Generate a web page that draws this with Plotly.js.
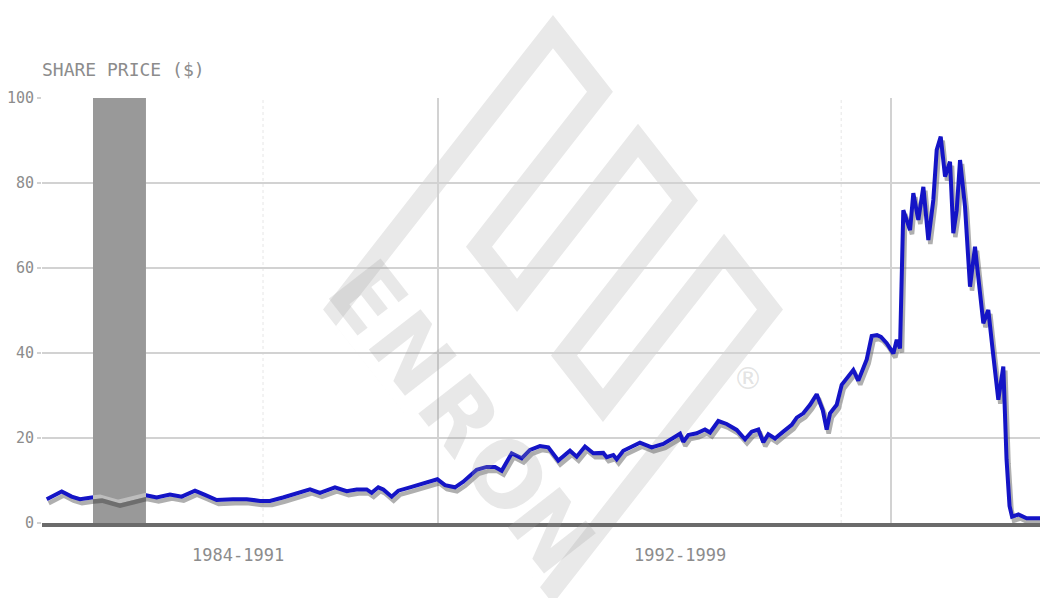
<!DOCTYPE html>
<html><head><meta charset="utf-8">
<script src="https://cdn.plot.ly/plotly-3.0.1.min.js"></script>
<style>html,body{margin:0;padding:0;background:#fff}#chart{width:1040px;height:598px}</style>
</head><body><div id="chart"></div>
<script>
// ---- data ----
const years = [1985.090,1985.355,1985.531,1985.678,1985.884,1986.031,1986.349,1986.614,1986.826,1987.032,
1987.267,1987.474,1987.709,1987.885,1988.092,1988.380,1988.622,1988.857,1989.033,1989.263,
1989.505,1989.740,1989.916,1990.181,1990.388,1990.564,1990.741,1990.829,1990.946,1991.034,
1991.182,1991.299,1991.506,1991.800,1991.988,1992.124,1992.300,1992.447,1992.683,1992.860,
1993.007,1993.125,1993.302,1993.478,1993.625,1993.801,1993.948,1994.124,1994.331,1994.449,
1994.596,1994.743,1994.919,1994.979,1995.096,1995.156,1995.272,1995.567,1995.774,1995.979,
1996.097,1996.215,1996.274,1996.332,1996.420,1996.569,1996.715,1996.804,1996.950,1997.098,
1997.275,1997.422,1997.540,1997.657,1997.745,1997.833,1997.951,1998.098,1998.246,1998.335,
1998.451,1998.570,1998.688,1998.794,1998.864,1998.923,1999.041,1999.129,1999.246,1999.334,
1999.422,1999.506,1999.571,1999.659,1999.753,1999.823,1999.924,2000.041,2000.101,2000.159,
2000.217,2000.336,2000.394,2000.482,2000.571,2000.659,2000.747,2000.807,2000.878,2000.954,
2001.042,2001.100,2001.160,2001.219,2001.307,2001.395,2001.483,2001.630,2001.718,2001.801,
2001.895,2001.983,2002.040,2002.093,2002.137,2002.248,2002.396,2002.631];
const prices = [5.6,7.4,6.2,5.6,6.0,6.2,5.0,6.0,6.6,6.0,
6.7,6.2,7.6,6.6,5.4,5.6,5.6,5.2,5.2,6.0,
7.0,7.9,7.1,8.4,7.5,7.9,7.9,7.1,8.4,7.9,
6.2,7.6,8.4,9.5,10.3,8.9,8.4,9.7,12.5,13.2,
13.2,12.3,16.4,15.2,17.2,18.1,17.8,14.7,17.0,15.6,
18.0,16.4,16.5,15.5,16.0,15.0,17.0,18.9,17.8,18.6,
19.5,20.5,21.0,19.1,20.7,21.1,22.0,21.3,24.0,23.3,
21.9,19.7,21.5,22.0,19.0,20.9,19.9,21.5,23.1,24.8,
25.8,27.8,30.3,26.6,22.0,25.8,27.8,32.5,34.4,36.0,
33.5,36.5,38.5,44.0,44.2,43.8,42.3,39.9,43.1,41.1,
73.6,68.9,77.6,71.3,79.1,66.6,76.0,87.8,90.9,81.5,
85.0,68.2,73.6,85.4,74.4,55.6,65.0,47.0,50.1,40.0,
29.0,36.8,15.0,4.0,1.5,2.0,1.1,1.1];
const yTicks = [0,20,40,60,80,100];
const periodBounds = [1992, 2000];
const periodLabels = ['1984-1991','1992-1999'];
const periodLabelX = [1988.46, 1996.27];
const minorMarks = [1988.91, 1999.12];
const shadedPeriod = [1985.907, 1986.843];
const xRange = [1985.007, 2002.631];
const yRange = [0, 100];
const watermarkLetters = ['E','N','R','O','N'];

// ---- styling / geometry helpers ----
const W = 1040, H = 598, ML = 42, MR = 0, MT = 98, MB = 75;
const PW = W - ML - MR, PH = H - MT - MB;
const pxPerYear = PW / (xRange[1] - xRange[0]);
const pxPerUnit = PH / (yRange[1] - yRange[0]);
const SHX = 2 / pxPerYear, SHY = 4 / pxPerUnit;   // drop-shadow offset
const paperX = px => (px - ML) / PW;
const paperY = py => (H - MB - py) / PH;
// logo frame (tilted, vertically stretched square)
const LO = [553, 15], LK = 1.28;
const logoPt = (a, b) => [LO[0] + a - b, LO[1] + LK * (a + b)];
const OUTER = [[0,0],[60,0],[60,121],[85,121],[85,0],[145,0],[145,121],[171,121],[171,0],[230,0],[230,230],[0,230]];
const INNER = [[13,13],[47,13],[47,134],[98,134],[98,13],[132,13],[132,134],[184,134],[184,13],[217,13],[217,230],[13,230]];
function ring(pts) {
  return pts.map((p, i) => { const q = logoPt(p[0], p[1]); return (i ? 'L' : 'M') + paperX(q[0]).toFixed(4) + ',' + paperY(q[1]).toFixed(4); }).join(' ') + ' Z';
}
const logoPath = ring(OUTER) + ' ' + ring(INNER.slice().reverse());
const letterA = [17, 61, 109, 156, 200], letterB = 203;

const LINE = '#1414c6';
const SHADOW = 'rgba(95,95,95,0.5)';
const GRID = '#d2d2d2';
const TXT = '#8c8c8c';
const MONO = 'DejaVu Sans Mono, monospace';

const bx0 = (shadedPeriod[0] - xRange[0]) / (xRange[1] - xRange[0]);
const bx1 = (shadedPeriod[1] - xRange[0]) / (xRange[1] - xRange[0]);

const traces = [
  {x: years, y: prices, xaxis: 'x2', yaxis: 'y2', mode: 'lines', line: {color: SHADOW, width: 4.5}, hoverinfo: 'skip'},
  {x: years, y: prices, xaxis: 'x3', yaxis: 'y3', mode: 'lines', line: {color: LINE, width: 4}, hoverinfo: 'skip'},
  {x: [shadedPeriod[0], shadedPeriod[1], shadedPeriod[1], shadedPeriod[0]], y: [yRange[0], yRange[0], yRange[1], yRange[1]],
   xaxis: 'x4', yaxis: 'y4', mode: 'lines', fill: 'toself', fillcolor: '#999999', line: {width: 0, color: '#999999'}, hoverinfo: 'skip'},
  {x: years, y: prices, xaxis: 'x4', yaxis: 'y4', mode: 'lines', line: {color: '#bdbdbd', width: 4}, hoverinfo: 'skip'},
  {x: years, y: prices, xaxis: 'x5', yaxis: 'y5', mode: 'lines', line: {color: '#6e6e6e', width: 4.5}, hoverinfo: 'skip'}
];

const hidden = {visible: false, showgrid: false, zeroline: false, fixedrange: true};
const shapes = [
  {type: 'path', xref: 'paper', yref: 'paper', path: logoPath, fillcolor: '#e9e9e9', line: {width: 0}, layer: 'below'}
].concat(minorMarks.map(m => ({type: 'line', xref: 'x', yref: 'paper', x0: m, x1: m, y0: 0, y1: 1,
  line: {color: '#e6e6e6', width: 1, dash: 'dot'}, layer: 'below'})));

const annotations = periodLabels.map((t, i) => ({text: t, x: periodLabelX[i], xref: 'x', y: paperY(554.5), yref: 'paper',
  showarrow: false, xanchor: 'center', yanchor: 'middle', font: {family: MONO, size: 17, color: TXT}}))
.concat(watermarkLetters.map((ch, i) => { const p = logoPt(letterA[i], letterB); return {
  text: ch, x: paperX(p[0]), y: paperY(p[1]), xref: 'paper', yref: 'paper', showarrow: false,
  xanchor: 'center', yanchor: 'middle', textangle: 52,
  font: {family: 'DejaVu Sans', size: 90, weight: 'bold', color: 'rgba(160,160,160,0.24)'}}; }))
.concat([(() => { const p = logoPt(248, 36); return {text: '®', x: paperX(p[0]), y: paperY(p[1]), xref: 'paper', yref: 'paper',
  showarrow: false, font: {family: 'DejaVu Sans', size: 30, color: 'rgba(160,160,160,0.3)'}}; })()]);

const layout = {
  width: W, height: H, margin: {l: ML, r: MR, t: MT, b: MB, pad: 0},
  paper_bgcolor: '#ffffff', plot_bgcolor: 'rgba(0,0,0,0)', showlegend: false,
  title: {text: 'SHARE PRICE ($)', x: ML / W, xref: 'container', xanchor: 'left', y: 1 - 69.5 / H, yref: 'container', yanchor: 'middle',
    font: {family: MONO, size: 18, color: TXT}},
  xaxis: {range: xRange, tickvals: periodBounds, showticklabels: false, ticks: '', showgrid: true, gridcolor: GRID, gridwidth: 2,
    zeroline: false, showline: true, linecolor: '#6b6b6b', linewidth: 4, fixedrange: true},
  yaxis: {range: yRange, tickvals: yTicks, showgrid: true, gridcolor: GRID, gridwidth: 2, zeroline: false, showline: false,
    ticks: 'outside', ticklen: 4, tickwidth: 2, tickcolor: GRID, tickfont: {family: MONO, size: 15, color: TXT}, fixedrange: true},
  xaxis2: Object.assign({overlaying: 'x', anchor: 'y2', range: [xRange[0] - SHX, xRange[1] - SHX]}, hidden),
  yaxis2: Object.assign({overlaying: 'y', anchor: 'x2', range: [yRange[0] + SHY, yRange[1] + SHY]}, hidden),
  xaxis3: Object.assign({overlaying: 'x', anchor: 'y3', range: xRange}, hidden),
  yaxis3: Object.assign({overlaying: 'y', anchor: 'x3', range: yRange}, hidden),
  xaxis4: Object.assign({domain: [bx0, bx1], anchor: 'y4', range: shadedPeriod}, hidden),
  yaxis4: Object.assign({domain: [0, 1], anchor: 'x4', range: yRange}, hidden),
  xaxis5: Object.assign({overlaying: 'x4', anchor: 'y5', range: [shadedPeriod[0] - SHX, shadedPeriod[1] - SHX]}, hidden),
  yaxis5: Object.assign({overlaying: 'y4', anchor: 'x5', range: [yRange[0] + SHY, yRange[1] + SHY]}, hidden),
  shapes: shapes, annotations: annotations
};
Plotly.newPlot('chart', traces, layout, {displayModeBar: false, staticPlot: true});
</script></body></html>
